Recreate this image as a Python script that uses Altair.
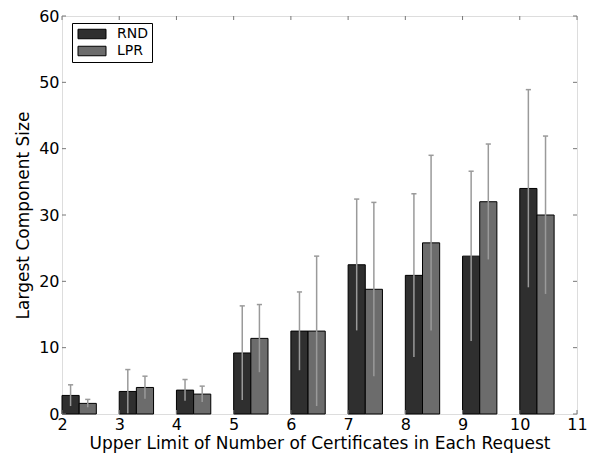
import altair as alt
import pandas as pd

limits = [2, 3, 4, 5, 6, 7, 8, 9, 10]
rnd = [2.8, 3.4, 3.6, 9.2, 12.5, 22.5, 20.9, 23.8, 34.0]
rnd_err = [1.6, 3.3, 1.6, 7.1, 5.9, 9.9, 12.3, 12.8, 14.9]
lpr = [1.6, 4.0, 3.0, 11.4, 12.5, 18.8, 25.8, 32.0, 30.0]
lpr_err = [0.6, 1.7, 1.2, 5.1, 11.3, 13.1, 13.2, 8.7, 11.9]
series = ["RND", "LPR"]
colors = ["#2f2f2f", "#6c6c6c"]
x_ticks = [2, 3, 4, 5, 6, 7, 8, 9, 10, 11]
y_ticks = [0, 10, 20, 30, 40, 50, 60]

W = 0.3
rows = []
for i, k in enumerate(limits):
    for j, (vals, errs) in enumerate([(rnd, rnd_err), (lpr, lpr_err)]):
        start = k + j * W
        rows.append({
            "series": series[j],
            "x0": start,
            "x1": start + W,
            "xc": start + W / 2,
            "cl": start + W / 2 - 0.045,
            "cr": start + W / 2 + 0.045,
            "v": vals[i],
            "lo": vals[i] - errs[i],
            "hi": vals[i] + errs[i],
        })
df = pd.DataFrame(rows)

PW, PH = 515, 398
xs = alt.Scale(domain=[2, 11], nice=False, zero=False)
ys = alt.Scale(domain=[0, 60], nice=False)

xaxis = alt.Axis(values=x_ticks, format="d", title="Upper Limit of Number of Certificates in Each Request",
                 labelFontSize=16, titleFontSize=17, titleFontWeight="normal", labelPadding=2,
                 titlePadding=3, tickSize=0, domain=False, grid=False, labelColor="black", titleColor="black",
                 labelFlush=False)
yaxis = alt.Axis(values=y_ticks, format="d", title="Largest Component Size",
                 labelFontSize=16, titleFontSize=17, titleFontWeight="normal", labelPadding=3,
                 titlePadding=6, tickSize=0, domain=False, grid=False, labelColor="black", titleColor="black")

bars = alt.Chart(df).mark_rect(stroke="black", strokeWidth=1).encode(
    x=alt.X("x0:Q", scale=xs, axis=xaxis),
    x2="x1:Q",
    y=alt.Y("v:Q", scale=ys, axis=yaxis),
    y2=alt.datum(0),
    color=alt.Color("series:N", scale=alt.Scale(domain=series, range=colors),
                    sort=series,
                    legend=alt.Legend(title=None, orient="none", legendX=10, legendY=7,
                                      symbolType="M-2.8,-0.95L2.8,-0.95L2.8,0.95L-2.8,0.95Z",
                                      symbolSize=100, symbolOffset=9,
                                      symbolStrokeColor="black", symbolStrokeWidth=1,
                                      symbolOpacity=1, labelFontSize=14, labelColor="black",
                                      strokeColor="black", padding=4, rowPadding=3,
                                      labelOffset=18, fillColor="white")),
)

err = alt.Chart(df).mark_rule(color="#9a9a9a", strokeWidth=1.5).encode(
    x="xc:Q", y="lo:Q", y2="hi:Q")
caps = alt.Chart(df).mark_rule(color="#9a9a9a", strokeWidth=1.5).encode(
    x="cl:Q", x2="cr:Q", y="hi:Q")

tdf_x = pd.DataFrame({"t": x_ticks})
tdf_y = pd.DataFrame({"t": y_ticks})
tick_bottom = alt.Chart(tdf_x).mark_rule(color="#777").encode(
    x="t:Q", y=alt.value(PH), y2=alt.value(PH - 4))
tick_top = alt.Chart(tdf_x).mark_rule(color="#777").encode(
    x="t:Q", y=alt.value(0), y2=alt.value(4))
tick_left = alt.Chart(tdf_y).mark_rule(color="#777").encode(
    y="t:Q", x=alt.value(0), x2=alt.value(4))
tick_right = alt.Chart(tdf_y).mark_rule(color="#777").encode(
    y="t:Q", x=alt.value(PW), x2=alt.value(PW - 4))

chart = alt.layer(bars, err, caps, tick_bottom, tick_top, tick_left, tick_right).properties(
    width=PW, height=PH,
    autosize=alt.AutoSizeParams(type="none"),
    padding={"left": 54, "top": 8, "right": 10, "bottom": 40},
).configure_view(stroke="#444", strokeWidth=1.5).configure(
    font="DejaVu Sans"
)

chart.save("out.html", embed_options={"renderer": "svg", "actions": False})
